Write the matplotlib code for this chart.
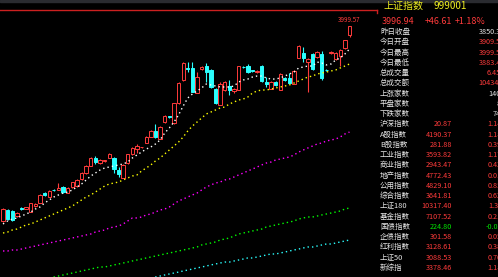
import numpy as np
import matplotlib.pyplot as plt
from matplotlib.lines import Line2D
from matplotlib.patches import Rectangle

plt.rcParams['font.family'] = ['Noto Sans CJK SC', 'DejaVu Sans']

# candles, oldest first (index points)
opens = [1989, 2102, 2092, 2040, 2123, 2117, 2081, 2143, 2174, 2277,
         2236, 2313, 2308, 2339, 2277, 2339, 2349, 2421, 2483, 2555,
         2638, 2586, 2602, 2638, 2638, 2514, 2432, 2586, 2679, 2730,
         2746, 2792, 2854, 2916, 2833, 3008, 3070, 2998, 3204, 3441,
         3565, 3565, 3307, 3554, 3585, 3544, 3348, 3184, 3338, 3379,
         3328, 3338, 3580, 3585, 3539, 3523, 3585, 3420, 3348, 3420,
         3338, 3462, 3462, 3400, 3668, 3719, 3626, 3709, 3678, 3709,
         3549, 3719, 3657, 3688, 3771, 3909]
closes = [2112, 2009, 1999, 2071, 2112, 2128, 2174, 2164, 2257, 2257,
          2298, 2303, 2329, 2287, 2329, 2390, 2411, 2483, 2555, 2638,
          2596, 2617, 2612, 2679, 2524, 2473, 2566, 2679, 2741, 2761,
          2751, 2854, 2916, 2854, 2957, 3070, 3055, 3204, 3410, 3616,
          3554, 3317, 3472, 3575, 3523, 3369, 3204, 3400, 3420, 3338,
          3348, 3585, 3570, 3523, 3529, 3534, 3431, 3400, 3420, 3390,
          3503, 3441, 3410, 3534, 3791, 3668, 3657, 3554, 3729, 3462,
          3539, 3729, 3719, 3750, 3850, 3996.94]
highs = [2123, 2112, 2102, 2081, 2128, 2133, 2174, 2174, 2267, 2287,
         2308, 2318, 2380, 2349, 2339, 2390, 2421, 2493, 2566, 2648,
         2658, 2627, 2617, 2689, 2648, 2545, 2576, 2679, 2751, 2782,
         2756, 2864, 2926, 2988, 2967, 3081, 3075, 3204, 3420, 3626,
         3626, 3626, 3523, 3585, 3616, 3554, 3359, 3420, 3431, 3441,
         3359, 3585, 3585, 3606, 3544, 3544, 3595, 3472, 3431, 3431,
         3513, 3472, 3513, 3544, 3801, 3781, 3668, 3719, 3740, 3740,
         3554, 3740, 3729, 3760, 3853, 3999.57]
lows = [1978, 1999, 1989, 2030, 2107, 2112, 2081, 2133, 2174, 2246,
        2236, 2298, 2308, 2277, 2277, 2329, 2339, 2411, 2473, 2555,
        2576, 2576, 2596, 2638, 2483, 2442, 2432, 2576, 2669, 2689,
        2741, 2792, 2854, 2844, 2833, 2998, 3050, 2988, 3194, 3431,
        3523, 3317, 3307, 3544, 3420, 3359, 3194, 3184, 3328, 3287,
        3307, 3338, 3565, 3513, 3523, 3513, 3420, 3369, 3348, 3379,
        3338, 3431, 3400, 3400, 3668, 3626, 3317, 3544, 3668, 3441,
        3534, 3709, 3647, 3585, 3760, 3883]

# moving averages (None = below the visible range)
ma5 = [1958, 1989, 2009, 2020, 2040, 2061, 2081, 2112, 2133, 2174,
       2205, 2236, 2257, 2277, 2287, 2308, 2339, 2370, 2411, 2452,
       2483, 2514, 2535, 2545, 2555, 2566, 2576, 2596, 2638, 2669,
       2699, 2730, 2751, 2782, 2823, 2895, 2947, 3008, 3081, 3173,
       3256, 3297, 3328, 3359, 3400, 3390, 3379, 3369, 3369, 3369,
       3379, 3420, 3441, 3451, 3472, 3482, 3482, 3462, 3451, 3451,
       3462, 3482, 3503, 3523, 3565, 3575, 3585, 3585, 3626, 3616,
       3596, 3606, 3647, 3668, 3709, 3760]
ma10 = [1865, 1875, 1896, 1906, 1927, 1948, 1958, 1978, 1999, 2020,
        2040, 2061, 2081, 2102, 2123, 2143, 2174, 2205, 2236, 2257,
        2287, 2318, 2349, 2370, 2380, 2390, 2411, 2432, 2452, 2463,
        2504, 2535, 2566, 2607, 2638, 2679, 2720, 2761, 2802, 2854,
        2916, 2967, 3008, 3050, 3091, 3111, 3132, 3153, 3163, 3194,
        3214, 3235, 3245, 3266, 3307, 3328, 3338, 3338, 3348, 3359,
        3369, 3379, 3390, 3410, 3431, 3451, 3472, 3482, 3503, 3513,
        3523, 3534, 3544, 3565, 3585, 3606]
ma20 = [1680, 1680, 1690, 1690, 1700, 1711, 1721, 1731, 1742, 1752,
        1762, 1773, 1783, 1793, 1803, 1814, 1824, 1834, 1845, 1855,
        1875, 1886, 1896, 1917, 1927, 1937, 1958, 1989, 2020, 2020,
        2030, 2051, 2061, 2081, 2102, 2112, 2133, 2164, 2195, 2215,
        2236, 2257, 2277, 2308, 2339, 2360, 2380, 2390, 2411, 2421,
        2442, 2463, 2483, 2504, 2524, 2545, 2566, 2586, 2596, 2617,
        2627, 2638, 2648, 2669, 2699, 2720, 2741, 2761, 2782, 2792,
        2813, 2823, 2833, 2854, 2885, 2905]
ma30 = [None] * 10 + [
        1402, 1412, 1422, 1433, 1443, 1453, 1463, 1474, 1484, 1494,
        1505, 1515, 1515, 1525, 1536, 1546, 1556, 1566, 1577, 1587,
        1597, 1608, 1618, 1628, 1639, 1649, 1659, 1669, 1680, 1690,
        1700, 1711, 1721, 1742, 1752, 1762, 1773, 1793, 1803, 1814,
        1834, 1855, 1865, 1875, 1886, 1896, 1906, 1927, 1937, 1948,
        1958, 1968, 1978, 1989, 2009, 2020, 2030, 2030, 2040, 2051,
        2061, 2071, 2081, 2092, 2112, 2123]
ma60 = [None] * 32 + [
        1402, 1412, 1422, 1433, 1443, 1453, 1463, 1474, 1484, 1494,
        1505, 1515, 1525, 1536, 1546, 1556, 1566, 1566, 1577, 1587,
        1597, 1608, 1608, 1618, 1628, 1639, 1649, 1649, 1659, 1669,
        1680, 1690, 1700, 1711, 1721, 1721, 1731, 1742, 1752, 1752,
        1762, 1773, 1783, 1793]

high_label = '3999.57'

# quote panel
title_name = '上证指数'
title_code = '999001'
quote_price = '3996.94'
quote_change = '+46.61'
quote_pct = '+1.18%'

info_labels = ['昨日收盘', '今日开盘', '今日最高', '今日最低', '总成交量',
               '总成交额', '上涨家数', '平盘家数', '下跌家数']
info_values = ['3850.33', '3909.52', '3999.57', '3883.41', '6.452',
               '10434.0', '1405', '82', '745']
info_red = [False, True, True, True, True, True, False, False, False]

index_labels = ['沪深指数', 'A股指数', 'B股指数', '工业指数', '商业指数',
                '地产指数', '公用指数', '综合指数', '上证180', '基金指数',
                '国债指数', '企债指数', '红利指数', '上证50', '新综指']
index_values = ['20.87', '4190.37', '281.88', '3593.82', '2943.47',
                '4772.43', '4829.10', '3641.81', '10317.40', '7107.52',
                '224.80', '301.58', '3128.61', '3088.53', '3378.46']
index_pcts = ['1.14', '1.18', '0.39', '1.17', '0.42', '0.01', '0.85', '0.62',
              '1.33', '0.21', '-0.02', '0.05', '0.38', '0.70', '1.18']

RED = '#FF3B3B'
CYAN = '#2BFFFF'
W, H = 498, 277

fig = plt.figure(figsize=(W / 100, H / 100), dpi=100, facecolor='black')
ax = fig.add_axes([0, 0, 372 / W, 1])
ax.set_facecolor('black')
ax.axis('off')
ax.set_xlim(-0.65, 79.87)
ax.set_ylim(1412, 4265)

o = np.array(opens, dtype=float)
c = np.array(closes, dtype=float)
x = np.arange(len(c))
up = c >= o
cols = np.where(up, RED, CYAN)

ax.vlines(x, lows, highs, colors=cols, linewidth=0.8, zorder=1)
body = np.maximum(np.abs(c - o), 4)
ax.bar(x, body, bottom=np.minimum(o, c), width=0.72,
       color=np.where(up, 'black', CYAN), edgecolor=cols, linewidth=0.7, zorder=2)

for ma, col in [(ma5, 'white'), (ma10, '#FFFF00'), (ma20, '#FF00FF'),
                (ma30, '#00FF00'), (ma60, CYAN)]:
    y = np.array([np.nan if v is None else v for v in ma], dtype=float)
    ax.plot(x, y, color=col, linestyle=(0, (1, 2.2)), linewidth=1.0, zorder=3)

ax.annotate(high_label, (x[-1], highs[-1]), xytext=(0, 1.5),
            textcoords='offset points', ha='center', va='bottom',
            color=RED, fontsize=4.5)

# top strip and red rule
fig.add_artist(Rectangle((0, 1 - 1.5 / H), 1, 1.5 / H, color='#2a2b30',
                         transform=fig.transFigure))
fig.add_artist(Line2D([0, 377 / W], [1 - 9.5 / H] * 2, color='#CC2020', lw=1))
fig.add_artist(Line2D([377 / W] * 2, [1 - 9.5 / H, 1 - 13 / H], color='#CC2020', lw=1))


def px(xp, yp):
    return xp / W, 1 - yp / H


fig.text(*px(383, 6), title_name, color='#F0F020', fontsize=7.2, va='center')
fig.text(*px(433, 6), title_code, color='#F0F020', fontsize=7.2, va='center')
fig.text(*px(382, 22), quote_price, color=RED, fontsize=6.5, va='center')
fig.text(*px(425, 22), quote_change, color=RED, fontsize=6.5, va='center')
fig.text(*px(455, 22), quote_pct, color=RED, fontsize=6.5, va='center')

row_h = 10.26
for k, (lab, val, red) in enumerate(zip(info_labels, info_values, info_red)):
    yy = 32 + row_h * k
    fig.text(*px(380, yy), lab, color='#E6E6E6', fontsize=5.4, va='center')
    fig.text(*px(505, yy), val, color=RED if red else '#E6E6E6',
             fontsize=5.2, va='center', ha='right')

for j, (lab, val, pct) in enumerate(zip(index_labels, index_values, index_pcts)):
    yy = 32 + row_h * (j + len(info_labels))
    col = '#00E600' if pct.startswith('-') else RED
    fig.text(*px(380, yy), lab, color='#E6E6E6', fontsize=5.4, va='center')
    fig.text(*px(452, yy), val, color=col, fontsize=5.2, va='center', ha='right')
    fig.text(*px(502, yy), pct, color=col, fontsize=5.2, va='center', ha='right')

fig.savefig('out.png', dpi=100, facecolor='black')
